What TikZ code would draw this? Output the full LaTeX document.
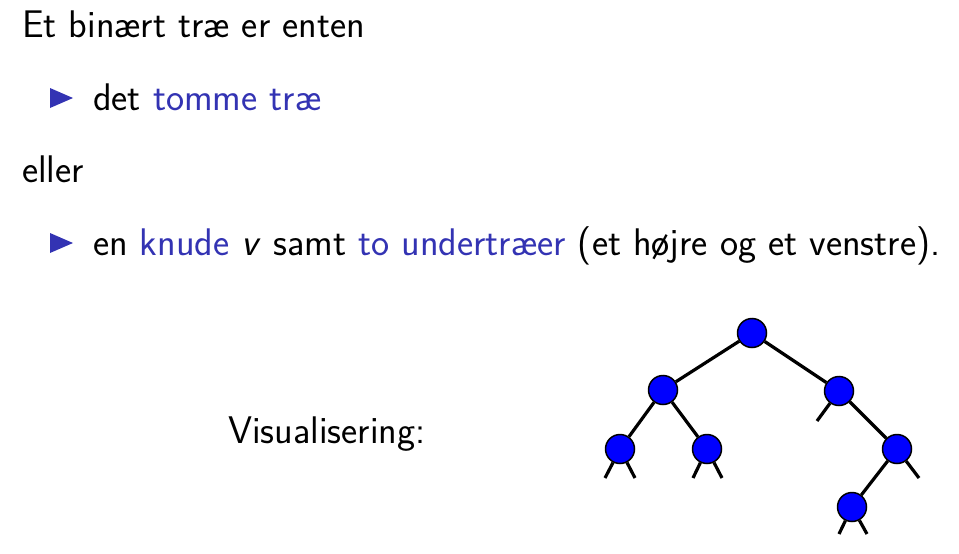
\documentclass[tikz,border=0pt]{standalone}
\usepackage{fontspec}
\definecolor{struct}{RGB}{51,51,179}
\tikzset{
  knude/.style={circle,draw,fill=blue,minimum size=29pt,inner sep=0pt,line width=1.5pt},
  kant/.style={line width=3.2pt},
  tekst/.style={anchor=base west,inner sep=0pt,font=\fontsize{38.5}{44}\selectfont\sffamily},
  punkt/.style={fill=struct}
}
\begin{document}
\begin{tikzpicture}[x=1pt,y=-1pt]
  \useasboundingbox (0,0) rectangle (959,554);
  % tekst
  \node[tekst] (l1) at (22,37) {Et binært træ er enten};
  \node[tekst] (l2) at (93,110) {det \textcolor{struct}{tomme træ}};
  \node[tekst] (l3) at (22,182) {eller};
  \node[tekst] (l4) at (93,255) {en \textcolor{struct}{knude} \textit{v} samt \textcolor{struct}{to undertræer} (et højre og et venstre).};
  \node[tekst] (vis) at (228,443) {Visualisering:};
  \fill[punkt] (50,88) -- (73,98) -- (50,108) -- cycle;
  \fill[punkt] (50,233) -- (73,243) -- (50,253) -- cycle;
  % traeet
  \node[knude] (r) at (752,333) {};
  \node[knude] (a) at (663,390) {};
  \node[knude] (b) at (839,391) {};
  \node[knude] (aa) at (620,449) {};
  \node[knude] (ab) at (707,449) {};
  \node[knude] (bb) at (897,449) {};
  \node[knude] (bba) at (852,507) {};
  \coordinate (aa1) at (605,478);
  \coordinate (aa2) at (635,478);
  \coordinate (ab1) at (693,478);
  \coordinate (ab2) at (722,478);
  \coordinate (b1) at (817,421);
  \coordinate (bb2) at (919,478);
  \coordinate (bba1) at (839,534);
  \coordinate (bba2) at (867,534);
  \begin{scope}[kant]
    \draw (r) -- (a);
    \draw (r) -- (b);
    \draw (a) -- (aa);
    \draw (a) -- (ab);
    \draw (b) -- (bb);
    \draw (bb) -- (bba);
    \draw (aa) -- (aa1);
    \draw (aa) -- (aa2);
    \draw (ab) -- (ab1);
    \draw (ab) -- (ab2);
    \draw (b) -- (b1);
    \draw (bb) -- (bb2);
    \draw (bba) -- (bba1);
    \draw (bba) -- (bba2);
  \end{scope}
\end{tikzpicture}
\end{document}
